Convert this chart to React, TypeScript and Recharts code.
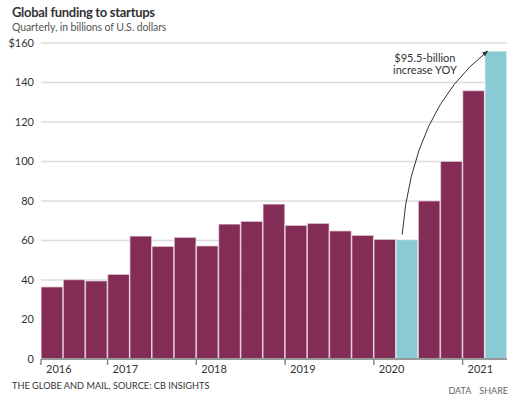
import { BarChart, Bar, Cell, CartesianGrid, XAxis, YAxis, ReferenceLine } from "recharts";

const quarters = [
  "Q2 2016", "Q3 2016", "Q4 2016",
  "Q1 2017", "Q2 2017", "Q3 2017", "Q4 2017",
  "Q1 2018", "Q2 2018", "Q3 2018", "Q4 2018",
  "Q1 2019", "Q2 2019", "Q3 2019", "Q4 2019",
  "Q1 2020", "Q2 2020", "Q3 2020", "Q4 2020",
  "Q1 2021", "Q2 2021",
];
const funding = [
  36.6, 40.3, 39.6,
  42.9, 62.3, 57.1, 61.6,
  57.4, 68.4, 69.7, 78.5,
  67.7, 68.7, 64.9, 62.7,
  60.6, 60.5, 80.1, 100.1,
  136.0, 156.0,
];
const highlighted = [
  false, false, false,
  false, false, false, false,
  false, false, false, false,
  false, false, false, false,
  false, true, false, false,
  false, true,
];
const yearLabels = [
  "2016", "", "",
  "2017", "", "", "",
  "2018", "", "", "",
  "2019", "", "", "",
  "2020", "", "", "",
  "2021", "",
];
const yTicks = [0, 20, 40, 60, 80, 100, 120, 140, 160];

const data = quarters.map((q, i) => ({ quarter: q, value: funding[i], year: yearLabels[i], hl: highlighted[i] }));

const W = 518;
const H = 399;
const margin = { top: 43, right: 11, bottom: 10, left: 0 };
const Y_W = 41;
const X_H = 30;
const bandWidth = (W - margin.left - margin.right - Y_W) / quarters.length;

const FONT = "Lato, 'Noto Sans', sans-serif";
const PURPLE = "#832c55";
const BLUE = "#89cad4";

const YearTick = (props: any) => {
  const { x, y, index } = props;
  const label = yearLabels[index];
  if (!label) return null;
  const left = x - bandWidth / 2;
  return (
    <g>
      <line x1={left} y1={y} x2={left} y2={y + 6} stroke="#888" strokeWidth={1.5} />
      <text x={left + 5} y={y + 14} fontSize={11} fill="#333" fontFamily={FONT}>
        {label}
      </text>
    </g>
  );
};

const YoyArrow = (props: any) => {
  const { x1, y1, x2, y2 } = props;
  const sx = x1 - 5;
  const sy = y1;
  const ex = x2 - 8;
  const ey = y2;
  const cx = sx + 0.12 * (ex - sx);
  const cy = ey + 0.32 * (sy - ey);
  const ang = Math.atan2(ey - cy, ex - cx);
  const len = 6;
  const a1 = ang + Math.PI - 0.4;
  const a2 = ang + Math.PI + 0.4;
  return (
    <g>
      <path d={`M${sx},${sy} Q${cx},${cy} ${ex},${ey}`} fill="none" stroke="#333" strokeWidth={1} />
      <path
        d={`M${ex},${ey} L${ex + len * Math.cos(a1)},${ey + len * Math.sin(a1)} L${ex + len * Math.cos(a2)},${ey + len * Math.sin(a2)} Z`}
        fill="#333"
      />
      <text x={ex - 63} y={ey + 11} textAnchor="middle" fontSize={11} fill="#333" fontFamily={FONT}>
        $95.5-billion
      </text>
      <text x={ex - 63} y={ey + 23} textAnchor="middle" fontSize={11} fill="#333" fontFamily={FONT}>
        increase YOY
      </text>
    </g>
  );
};

const App = () => {
  return (
    <div style={{ position: "absolute", left: 0, top: 0, width: W, height: H, background: "#fff", fontFamily: FONT }}>
      <div
        style={{
          position: "absolute",
          left: 12,
          top: 6,
          fontSize: 13,
          fontWeight: 700,
          color: "#333",
          lineHeight: "13px",
          letterSpacing: -0.3,
        }}
      >
        Global funding to startups
      </div>
      <div
        style={{
          position: "absolute",
          left: 12,
          top: 22,
          fontSize: 10.5,
          color: "#555",
          lineHeight: "11px",
          letterSpacing: -0.1,
        }}
      >
        Quarterly, in billions of U.S. dollars
      </div>
      <BarChart width={W} height={H} data={data} margin={margin} barCategoryGap={0}>
        <CartesianGrid vertical={false} stroke="#dcdcdc" strokeWidth={1.5} />
        <XAxis
          dataKey="quarter"
          height={X_H}
          interval={0}
          tickLine={false}
          tickSize={0}
          tickMargin={0}
          axisLine={{ stroke: "#999", strokeWidth: 2 }}
          tick={<YearTick />}
        />
        <YAxis
          width={Y_W}
          domain={[0, 160]}
          ticks={yTicks}
          tickLine={false}
          axisLine={false}
          tickSize={6}
          tickMargin={1}
          tick={{ fontSize: 11, fill: "#333", fontFamily: FONT }}
          tickFormatter={(v: number) => (v === 160 ? "$160" : String(v))}
        />
        <Bar dataKey="value" isAnimationActive={false} stroke="rgba(255,255,255,0.55)" strokeWidth={1.5}>
          {data.map((d) => (
            <Cell key={d.quarter} fill={d.hl ? BLUE : PURPLE} />
          ))}
        </Bar>
        <ReferenceLine
          segment={[
            { x: "Q2 2020", y: 63 },
            { x: "Q2 2021", y: 156 },
          ]}
          shape={<YoyArrow />}
        />
      </BarChart>
      <div style={{ position: "absolute", left: 12, top: 381, fontSize: 9.2, color: "#333", lineHeight: "10px" }}>
        THE GLOBE AND MAIL, SOURCE: CB INSIGHTS
      </div>
      <div style={{ position: "absolute", right: 10, top: 386, fontSize: 9, color: "#666", lineHeight: "9px", wordSpacing: 6 }}>
        DATA SHARE
      </div>
    </div>
  );
};

export default App;
